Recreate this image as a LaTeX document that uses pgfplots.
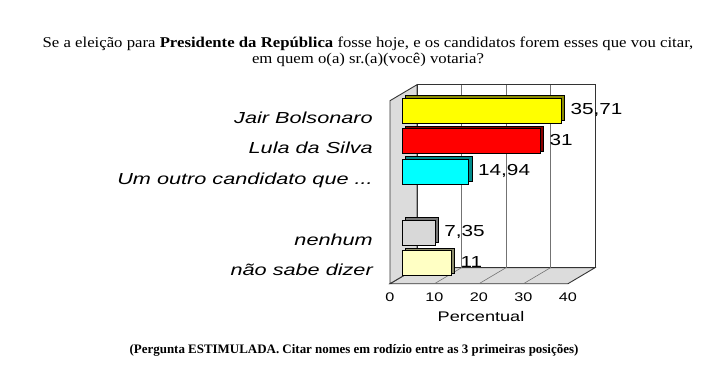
\documentclass[border=0pt]{standalone}
\usepackage{pgfplots}
\pgfplotsset{compat=1.18}
\usepackage{fontspec}
\setmainfont{Liberation Serif}
\newfontfamily\ar{Liberation Sans}
\newcommand{\st}[1]{\scalebox{1.3}[1]{#1}}
\newcommand{\sty}[1]{\scalebox{1.36}[1]{#1}}
\definecolor{wallgray}{HTML}{DCDCDC}
\definecolor{cream}{HTML}{FFFFC4}
\definecolor{lgray}{HTML}{D8D8D8}
\definecolor{cyanb}{HTML}{00FFFF}
\definecolor{yellowb}{HTML}{FFFF00}
\definecolor{redb}{HTML}{FF0000}
\begin{document}
\begin{tikzpicture}
\useasboundingbox (0,0) rectangle (720bp,365bp);
\node[font=\fontsize{15}{16}\selectfont, inner sep=0, anchor=base] at (368bp,317bp)
 {\scalebox{1.12}[1]{Se a eleição para \textbf{Presidente da República} fosse hoje, e os candidatos forem esses que vou citar,}};
\node[font=\fontsize{15}{16}\selectfont, inner sep=0, anchor=base] at (368bp,301bp)
 {\scalebox{1.12}[1]{em quem o(a) sr.(a)(você) votaria?}};
\node[font=\bfseries\fontsize{13}{14}\selectfont, inner sep=0] at (354bp,15bp)
 {(Pergunta ESTIMULADA. Citar nomes em rodízio entre as 3 primeiras posições)};
\begin{axis}[
 at={(402bp,88.3bp)}, anchor=south west,
 scale only axis, width=178bp, height=183bp,
 xmin=0, xmax=40, ymin=-0.45, ymax=5.55,
 clip=false,
 axis line style={draw=none},
 major tick length=0pt,
 xtick={0,10,20,30,40},
 xticklabels={\st{0},\st{10},\st{20},\st{30},\st{40}},
 xticklabel style={font=\ar\fontsize{12.5}{14}\selectfont, anchor=north, inner sep=0pt, xshift=-12bp, yshift=-16bp},
 ytick={0,1,3,4,5},
 yticklabels={\sty{não sabe dizer},\sty{nenhum},\sty{Um outro candidato que ...},\sty{Lula da Silva},\sty{Jair Bolsonaro}},
 yticklabel style={font=\ar\itshape\fontsize{16}{18}\selectfont, anchor=base east, inner sep=0pt, xshift=-29bp, yshift=-13bp},
 xlabel={\st{Percentual}},
 xlabel style={font=\ar\fontsize{14}{16}\selectfont, at={(axis description cs:0.5,0)}, anchor=center, inner sep=0pt, xshift=-10bp, yshift=-40bp},
 /pgf/number format/.cd, use comma, fixed, precision=2, assume math mode=true,
]
% floor
\fill[wallgray, draw=black!80, line width=0.9pt]
 ([shift={(-12bp,-7bp)}]axis cs:0,-0.45) -- ([shift={(-12bp,-7bp)}]axis cs:40,-0.45)
 -- ([shift={(15bp,9bp)}]axis cs:40,-0.45) -- ([shift={(15bp,9bp)}]axis cs:0,-0.45) -- cycle;
% left wall
\fill[wallgray, draw=black!80, line width=0.9pt]
 ([shift={(-12bp,-7bp)}]axis cs:0,-0.45) -- ([shift={(15bp,9bp)}]axis cs:0,-0.45)
 -- ([shift={(15bp,9bp)}]axis cs:0,5.55) -- ([shift={(-12bp,-7bp)}]axis cs:0,5.55) -- cycle;
% back wall
\fill[white, draw=black!80, line width=0.9pt]
 ([shift={(15bp,9bp)}]axis cs:0,-0.45) rectangle ([shift={(15bp,9bp)}]axis cs:40,5.55);
\draw[black!55, line width=0.6pt] ([shift={(15bp,9bp)}]axis cs:10,-0.45) -- ([shift={(15bp,9bp)}]axis cs:10,5.55);
\draw[black!55, line width=0.6pt] ([shift={(15bp,9bp)}]axis cs:20,-0.45) -- ([shift={(15bp,9bp)}]axis cs:20,5.55);
\draw[black!55, line width=0.6pt] ([shift={(15bp,9bp)}]axis cs:30,-0.45) -- ([shift={(15bp,9bp)}]axis cs:30,5.55);
\draw[black!55, line width=0.6pt] ([shift={(-12bp,-7bp)}]axis cs:10,-0.45) -- ([shift={(15bp,9bp)}]axis cs:10,-0.45);
\draw[black!55, line width=0.6pt] ([shift={(-12bp,-7bp)}]axis cs:20,-0.45) -- ([shift={(15bp,9bp)}]axis cs:20,-0.45);
\draw[black!55, line width=0.6pt] ([shift={(-12bp,-7bp)}]axis cs:30,-0.45) -- ([shift={(15bp,9bp)}]axis cs:30,-0.45);
% depth faces
\addplot[xbar, bar width=0.82, bar shift=0pt, fill=yellowb!55!black, draw=black, xshift=3.5bp, yshift=2.5bp] coordinates {(35.71,5)};
\addplot[xbar, bar width=0.82, bar shift=0pt, fill=redb!55!black, draw=black, xshift=3.5bp, yshift=2.5bp] coordinates {(31,4)};
\addplot[xbar, bar width=0.82, bar shift=0pt, fill=cyanb!55!black, draw=black, xshift=3.5bp, yshift=2.5bp] coordinates {(14.94,3)};
\addplot[xbar, bar width=0.82, bar shift=0pt, fill=lgray!55!black, draw=black, xshift=3.5bp, yshift=2.5bp] coordinates {(7.35,1)};
\addplot[xbar, bar width=0.82, bar shift=0pt, fill=cream!55!black, draw=black, xshift=3.5bp, yshift=2.5bp] coordinates {(11,0)};
% front faces
\pgfplotsset{every node near coord/.style={font=\ar\fontsize{16}{18}\selectfont, anchor=base west, inner sep=0pt, xshift=9.5bp, yshift=-4.5bp, black}}
\addplot[xbar, bar width=0.82, bar shift=0pt, fill=yellowb, draw=black, nodes near coords={\st{\pgfmathprintnumber{\pgfplotspointmeta}}}] coordinates {(35.71,5)};
\addplot[xbar, bar width=0.82, bar shift=0pt, fill=redb, draw=black, nodes near coords={\st{\pgfmathprintnumber{\pgfplotspointmeta}}}] coordinates {(31,4)};
\addplot[xbar, bar width=0.82, bar shift=0pt, fill=cyanb, draw=black, nodes near coords={\st{\pgfmathprintnumber{\pgfplotspointmeta}}}] coordinates {(14.94,3)};
\addplot[xbar, bar width=0.82, bar shift=0pt, fill=lgray, draw=black, nodes near coords={\st{\pgfmathprintnumber{\pgfplotspointmeta}}}] coordinates {(7.35,1)};
\addplot[xbar, bar width=0.82, bar shift=0pt, fill=cream, draw=black, nodes near coords={\st{\pgfmathprintnumber{\pgfplotspointmeta}}}] coordinates {(11,0)};
\end{axis}
\end{tikzpicture}
\end{document}
